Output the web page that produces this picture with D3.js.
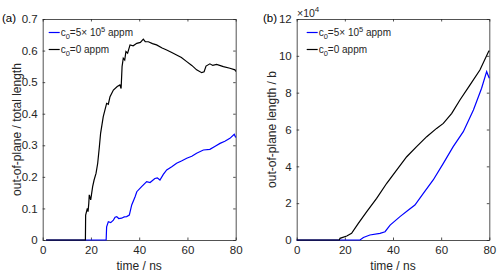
<!DOCTYPE html>
<html>
<head>
<meta charset="utf-8">
<script src="https://cdn.jsdelivr.net/npm/d3@7"></script>
<style>
  html, body { margin: 0; padding: 0; background: #fff; }
  svg { display: block; font-family: "Liberation Sans", Arial, sans-serif; }
</style>
</head>
<body>
<div id="chart"></div>
<script>
// time (ns) / value pairs
const timeTicks = [0, 20, 40, 60, 80];
const ratioTicks = [0, 0.1, 0.2, 0.3, 0.4, 0.5, 0.6, 0.7];
const lengthTicks = [0, 2, 4, 6, 8, 10, 12]; // ×10^4

// (a) out-of-plane / total length
const ratioBlack = [
  [1.4, 0], [17.7, 0], [17.8, 0.079], [18.5, 0.10], [18.8, 0.09], [19.1, 0.116], [19.3, 0.143],
  [19.9, 0.127], [20.7, 0.169], [21.3, 0.19], [22.1, 0.211], [22.8, 0.243], [23.5, 0.296],
  [24.0, 0.338], [25.1, 0.391], [26.5, 0.433], [27.2, 0.43], [27.9, 0.454], [29.3, 0.475],
  [30.9, 0.486], [32.0, 0.491], [32.5, 0.48], [32.9, 0.549], [33.4, 0.576], [34.0, 0.57],
  [34.5, 0.597], [35.2, 0.592], [36.2, 0.618], [37.5, 0.615], [39.0, 0.623], [40.5, 0.626],
  [41.7, 0.636], [42.5, 0.628], [43.8, 0.628], [45.5, 0.622], [47.2, 0.618], [49.5, 0.608],
  [51.4, 0.602], [53.5, 0.594], [55.5, 0.586], [57.5, 0.578], [59.7, 0.565], [61.8, 0.553],
  [63.8, 0.539], [65.9, 0.530], [66.9, 0.533], [67.7, 0.551], [69.3, 0.558], [70.5, 0.553],
  [72.1, 0.556], [74.9, 0.549], [77.6, 0.544], [79.7, 0.539], [80.0, 0.534]
];
const ratioBlue = [
  [1.4, 0], [26.3, 0], [26.5, 0.042], [27.2, 0.058], [28.2, 0.055], [29.3, 0.063], [30.0, 0.072],
  [30.7, 0.074], [31.5, 0.068], [32.7, 0.069], [33.8, 0.073], [34.8, 0.074], [35.9, 0.079],
  [36.9, 0.111], [38.3, 0.137], [39.0, 0.153], [41.0, 0.169], [43.1, 0.185], [44.5, 0.182],
  [46.5, 0.195], [47.5, 0.197], [48.6, 0.19], [50.0, 0.208], [51.4, 0.222], [53.5, 0.232],
  [55.5, 0.243], [57.5, 0.25], [59.7, 0.259], [61.8, 0.265], [63.8, 0.275], [66.6, 0.285],
  [69.3, 0.287], [71.5, 0.297], [73.5, 0.306], [75.5, 0.313], [77.6, 0.322], [79.4, 0.335],
  [80.0, 0.325]
];

// (b) out-of-plane length / b, in units of 10^4
const lengthBlack = [
  [0, 0], [17.7, 0], [18.0, 0.09], [20.8, 0.22], [22.8, 0.36], [25.6, 0.9], [29.1, 1.54],
  [33.2, 2.26], [37.4, 3.08], [41.5, 3.80], [45.7, 4.52], [49.8, 5.07], [54.0, 5.61],
  [58.1, 6.06], [60.9, 6.33], [64.4, 6.88], [67.8, 7.60], [72.0, 8.42], [76.1, 9.23],
  [79.7, 10.23], [80.0, 10.28]
];
const lengthBlue = [
  [0, 0], [26.3, 0], [27.7, 0.14], [30.4, 0.27], [34.6, 0.36], [36.7, 0.45], [38.8, 0.81],
  [42.9, 1.27], [46.4, 1.63], [49.1, 1.9], [52.6, 2.53], [56.7, 3.26], [60.9, 4.16],
  [65.0, 5.07], [69.2, 5.88], [73.4, 7.06], [76.8, 8.24], [78.9, 9.14], [80.0, 8.78]
];

const seriesNames = ["c0=5× 10^5 appm", "c0=0 appm"];

const W = 498, H = 274;
const axisColor = "#262626";

const svg = d3.select("#chart").append("svg")
  .attr("width", W).attr("height", H);

function panel(opts) {
  const x = d3.scaleLinear().domain([0, 80]).range([opts.left, opts.right]);
  const y = d3.scaleLinear().domain(opts.yDomain).range([240, 19]);
  const g = svg.append("g");

  // inward ticks on all four sides (box on)
  const tl = 2.5;
  g.append("g").attr("transform", `translate(0,${y.range()[0]})`)
    .call(d3.axisBottom(x).tickValues(timeTicks).tickSizeInner(-tl).tickSizeOuter(0).tickPadding(6).tickFormat(d3.format("d")));
  g.append("g").attr("transform", `translate(0,${y.range()[1]})`)
    .call(d3.axisTop(x).tickValues(timeTicks).tickSizeInner(-tl).tickSizeOuter(0).tickFormat(""));
  g.append("g").attr("transform", `translate(${opts.left},0)`)
    .call(d3.axisLeft(y).tickValues(opts.yTicks).tickSizeInner(-tl).tickSizeOuter(0).tickPadding(5).tickFormat(opts.yFormat));
  g.append("g").attr("transform", `translate(${opts.right},0)`)
    .call(d3.axisRight(y).tickValues(opts.yTicks).tickSizeInner(-tl).tickSizeOuter(0).tickFormat(""));

  g.selectAll(".domain").attr("stroke", axisColor).attr("stroke-width", 0.8);
  g.selectAll(".tick line").attr("stroke", axisColor).attr("stroke-width", 0.8);
  g.selectAll(".tick text").attr("fill", axisColor).attr("font-size", "11.5px")
    .attr("font-family", "Liberation Sans, Arial, sans-serif");

  const line = d3.line().x(d => x(d[0])).y(d => y(d[1]));
  g.append("path").datum(opts.blue).attr("d", line)
    .attr("fill", "none").attr("stroke", "#0000ff").attr("stroke-width", 1.2);
  g.append("path").datum(opts.black).attr("d", line)
    .attr("fill", "none").attr("stroke", "#000").attr("stroke-width", 1.2);

  // axis titles
  g.append("text")
    .attr("x", (opts.left + opts.right) / 2).attr("y", 270)
    .attr("text-anchor", "middle").attr("fill", axisColor).attr("font-size", "12px")
    .text("time / ns");
  g.append("text")
    .attr("transform", `translate(${opts.yLabelX},${(19 + 240) / 2}) rotate(-90)`)
    .attr("text-anchor", "middle").attr("fill", axisColor).attr("font-size", "12px")
    .text(opts.yLabel);

  // panel letter
  g.append("text")
    .attr("x", opts.tagX).attr("y", 22)
    .attr("fill", "#000").attr("font-size", "11.5px")
    .text(opts.tag);

  // legend
  const lx = opts.left + opts.legendDx;
  [["#0000ff", 32.5], ["#000", 49.5]].forEach(([c, ly], i) => {
    g.append("line")
      .attr("x1", lx).attr("x2", lx + 11).attr("y1", ly).attr("y2", ly)
      .attr("stroke", c).attr("stroke-width", 1.2);
    const t = g.append("text")
      .attr("x", lx + 12).attr("y", ly + 3.5)
      .attr("fill", axisColor).attr("font-size", "10px");
    t.append("tspan").text("c");
    t.append("tspan").attr("dy", 3).attr("font-size", "7.5px").text("0");
    if (i === 0) {
      t.append("tspan").attr("dy", -3).text("=5× 10");
      t.append("tspan").attr("dy", -4.5).attr("font-size", "7.5px").text("5");
      t.append("tspan").attr("dy", 4.5).text(" appm");
    } else {
      t.append("tspan").attr("dy", -3).text("=0 appm");
    }
  });
  return { x, y, g };
}

panel({
  left: 42.7, right: 235.7, yDomain: [0, 0.7], yTicks: ratioTicks,
  yFormat: d => d === 0 ? "0" : d3.format(".1f")(d),
  blue: ratioBlue, black: ratioBlack,
  yLabel: "out-of-plane / total length", yLabelX: 21, tag: "(a)", tagX: 2, legendDx: 6
});

const pb = panel({
  left: 296.7, right: 489.3, yDomain: [0, 12], yTicks: lengthTicks,
  yFormat: d3.format("d"),
  blue: lengthBlue, black: lengthBlack,
  yLabel: "out-of-plane length / b", yLabelX: 276, tag: "(b)", tagX: 263, legendDx: 10
});

// exponent label above axis (b)
const ex = pb.g.append("text").attr("x", 297).attr("y", 16.5)
  .attr("fill", axisColor).attr("font-size", "10.5px");
ex.append("tspan").text("×10");
ex.append("tspan").attr("dy", -5).attr("font-size", "8px").text("4");
</script>
</body>
</html>
